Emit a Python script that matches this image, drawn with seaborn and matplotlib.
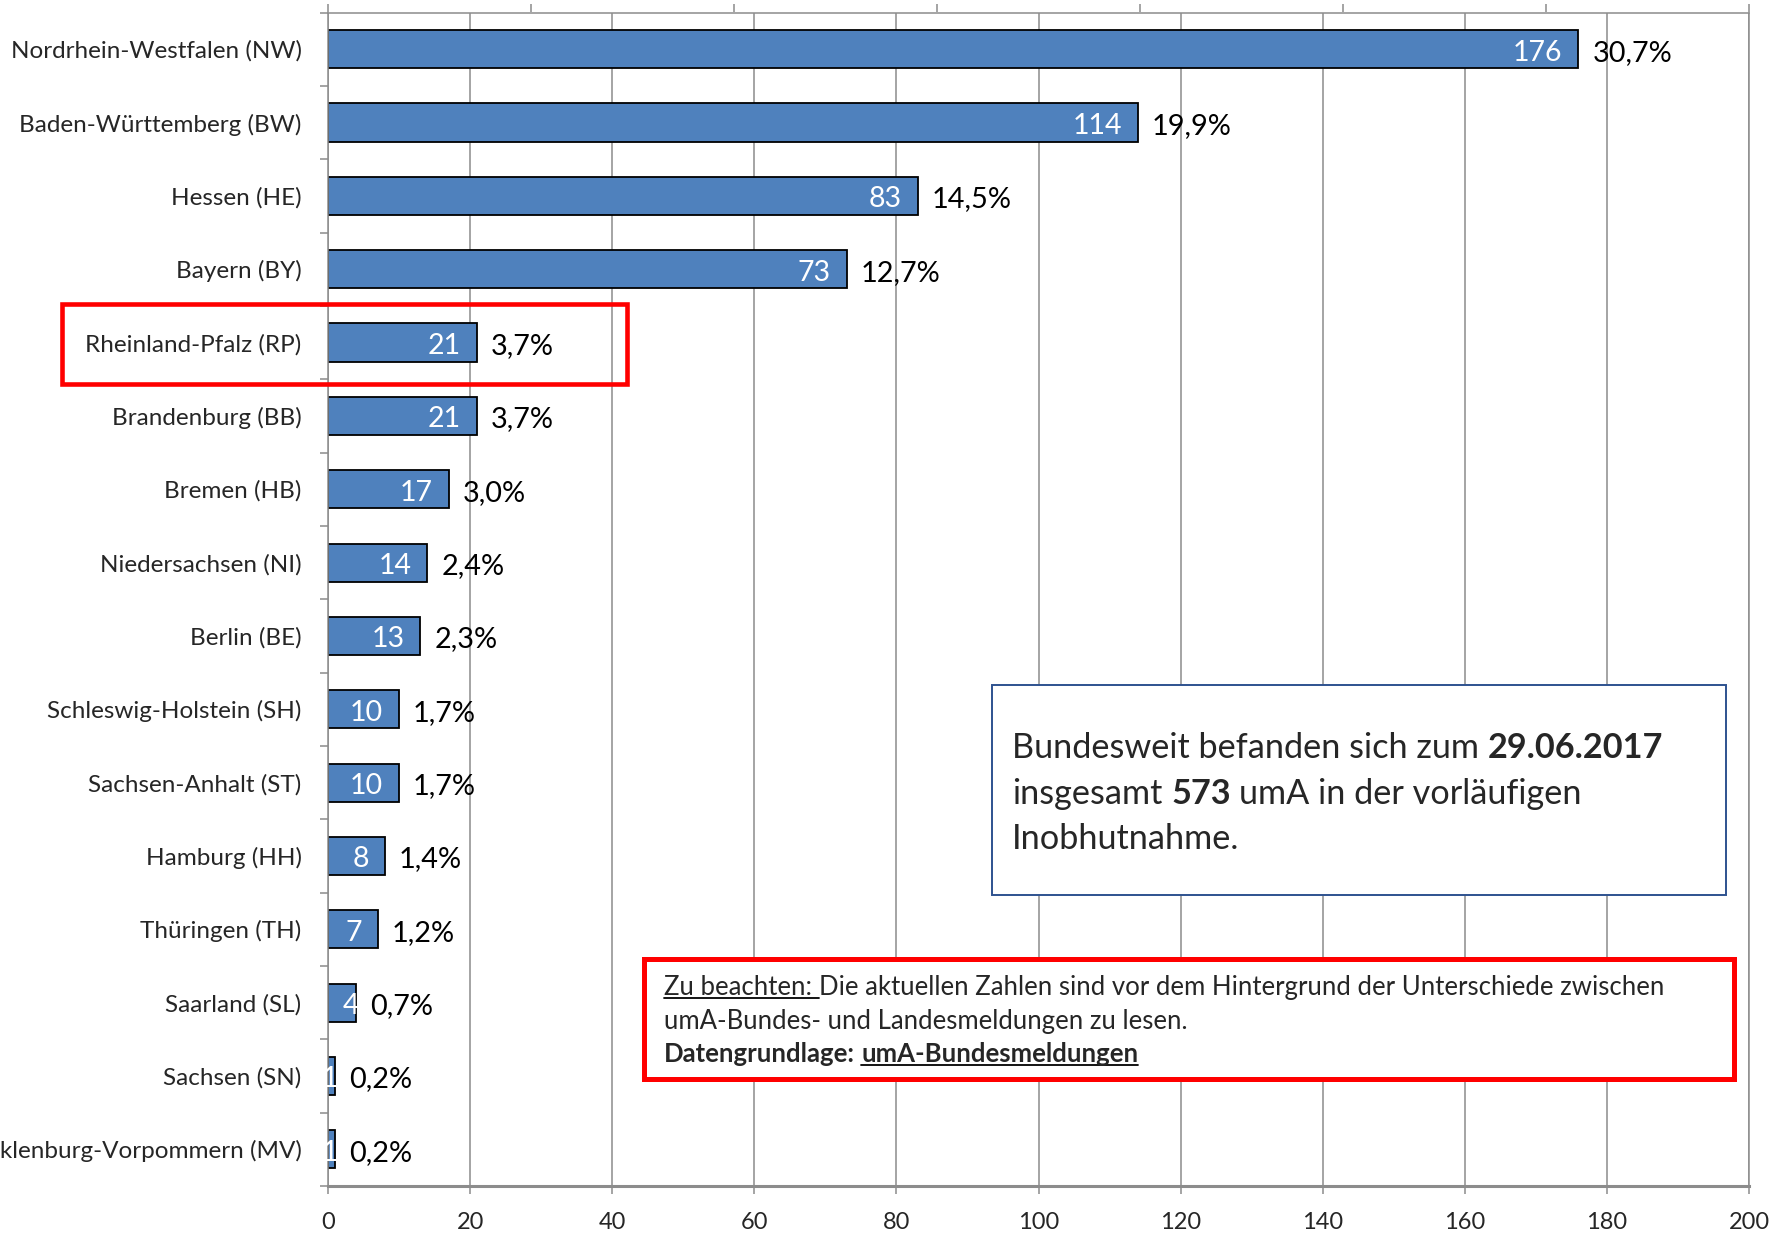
import matplotlib
matplotlib.use("Agg")
import numpy as np
import pandas as pd
import seaborn as sns
import matplotlib.pyplot as plt
from matplotlib.patches import Rectangle
from matplotlib.lines import Line2D
from matplotlib.transforms import IdentityTransform

# Daten: umA in vorläufiger Inobhutnahme je Bundesland (Stand 29.06.2017)
laender = [
    "Nordrhein-Westfalen (NW)", "Baden-Württemberg (BW)", "Hessen (HE)", "Bayern (BY)",
    "Rheinland-Pfalz (RP)", "Brandenburg (BB)", "Bremen (HB)", "Niedersachsen (NI)",
    "Berlin (BE)", "Schleswig-Holstein (SH)", "Sachsen-Anhalt (ST)", "Hamburg (HH)",
    "Thüringen (TH)", "Saarland (SL)", "Sachsen (SN)", "Mecklenburg-Vorpommern (MV)",
]
anzahl = [176, 114, 83, 73, 21, 21, 17, 14, 13, 10, 10, 8, 7, 4, 1, 1]
anteil = ["30,7%", "19,9%", "14,5%", "12,7%", "3,7%", "3,7%", "3,0%", "2,4%",
          "2,3%", "1,7%", "1,7%", "1,4%", "1,2%", "0,7%", "0,2%", "0,2%"]
x_ticks = list(range(0, 201, 20))

BAR = "#4F81BD"
GRID = "#8C8C8C"
W, H = 1785, 1233

sns.set_style("white")
plt.rcParams["font.family"] = ["Lato", "DejaVu Sans"]

fig = plt.figure(figsize=(W / 100, H / 100), dpi=100)


def fx(x, y):
    """Pixel (oben links) -> Figure-Anteil."""
    return x / W, 1 - y / H


ax = fig.add_axes([328 / W, 1 - 1186 / H, (1749 - 328) / W, (1186 - 12.5) / H])

df = pd.DataFrame({"land": laender, "anzahl": anzahl})
sns.barplot(data=df, x="anzahl", y="land", orient="h", color=BAR, saturation=1,
            edgecolor="black", linewidth=1.3, width=0.52, ax=ax)

n = len(laender)
ax.set_xlim(0, 200)
ax.set_ylim(n - 0.5, -0.5)
ax.set_xticks(x_ticks)
ax.set_xlabel("")
ax.set_ylabel("")
ax.xaxis.grid(True, color=GRID, lw=1.1)
ax.yaxis.grid(False)
ax.set_axisbelow(True)

ax.set_yticks(np.arange(-0.5, n, 1), minor=True)
ax.tick_params(axis="y", which="major", length=0, pad=19, labelsize=17.5, left=True)
ax.tick_params(axis="y", which="minor", length=6, width=1.1, color=GRID, left=True)
ax.tick_params(axis="x", length=6, width=1.1, color=GRID, pad=13, labelsize=17, bottom=True)
for side, sp in ax.spines.items():
    sp.set_color(GRID)
    sp.set_linewidth(1.1)
ax.spines["bottom"].set_linewidth(2.2)

# sekundäre Achse oben (nur Teilstriche)
ax2 = ax.twiny()
ax2.set_xlim(0, 7)
ax2.set_xticks(range(8))
ax2.set_xticklabels([])
ax2.tick_params(axis="x", top=True, length=6, width=1.1, color=GRID)
for sp in ax2.spines.values():
    sp.set_visible(False)

# Beschriftungen an den Balken
for i, (v, p) in enumerate(zip(anzahl, anteil)):
    if v >= 5:
        ax.annotate(str(v), xy=(v, i), xytext=(-11.5, -2.5), textcoords="offset points",
                    ha="right", va="center", color="white", fontsize=20.5)
    else:
        ax.annotate(str(v), xy=(v, i), xytext=(-4, -2.5), textcoords="offset points",
                    ha="center", va="center", color="white", fontsize=20.5)
    ax.annotate(p, xy=(v, i), xytext=(10, -2.5), textcoords="offset points",
                ha="left", va="center", color="black", fontsize=20.8)

# Rahmen um Rheinland-Pfalz
x0, y0 = fx(61.5, 384)
fig.add_artist(Rectangle((x0, y0), 565.5 / W, 80 / H, transform=fig.transFigure,
                         fill=False, edgecolor="#FF0000", lw=3.3, zorder=5))

# Infobox
x0, y0 = fx(991.5, 895)
fig.add_artist(Rectangle((x0, y0), 734.5 / W, 210 / H, transform=fig.transFigure,
                         facecolor="white", edgecolor="#2E528F", lw=1.4, zorder=4))

# Hinweisbox
x0, y0 = fx(644, 1079)
fig.add_artist(Rectangle((x0, y0), 1090 / W, 120.5 / H, transform=fig.transFigure,
                         facecolor="white", edgecolor="#FF0000", lw=3.6, zorder=4))

renderer = fig.canvas.get_renderer()


def text_width(s, size, weight):
    t = fig.text(0, 0, s, fontsize=size, fontweight=weight)
    w = t.get_window_extent(renderer).width
    t.remove()
    return w


def rich_line(x, y_top, parts, size):
    """Textzeile aus Stücken (Text, Gewicht, unterstrichen) in Pixeln."""
    px, py = x, H - y_top
    for s, weight, under in parts:
        core = s.rstrip()
        trail = len(s) - len(core)
        sp = text_width("a a", size, weight) - text_width("aa", size, weight)
        t = fig.text(px, py, core, fontsize=size, fontweight=weight, ha="left",
                     va="baseline", transform=IdentityTransform(), zorder=6)
        w = t.get_window_extent(renderer).width + trail * sp
        if under:
            uy = py - size * 0.14
            fig.add_artist(Line2D([px, px + w], [uy, uy], transform=IdentityTransform(),
                                  color="black", lw=size * 0.07, zorder=6))
        px += w


info = 24.7
rich_line(1012, 758, [("Bundesweit befanden sich zum ", "normal", False),
                      ("29.06.2017", "bold", False)], info)
rich_line(1012, 804, [("insgesamt ", "normal", False), ("573 ", "bold", False),
                      ("umA in der vorläufigen", "normal", False)], info)
rich_line(1012, 849, [("Inobhutnahme.", "normal", False)], info)

note = 18.5
rich_line(664, 995, [("Zu beachten: ", "normal", True),
                     ("Die aktuellen Zahlen sind vor dem Hintergrund der Unterschiede zwischen",
                      "normal", False)], note)
rich_line(664, 1029, [("umA-Bundes- und Landesmeldungen zu lesen.", "normal", False)], note)
rich_line(664, 1062, [("Datengrundlage: ", "bold", False),
                      ("umA-Bundesmeldungen", "bold", True)], note)

fig.savefig("out.png", dpi=100)
plt.close(fig)
